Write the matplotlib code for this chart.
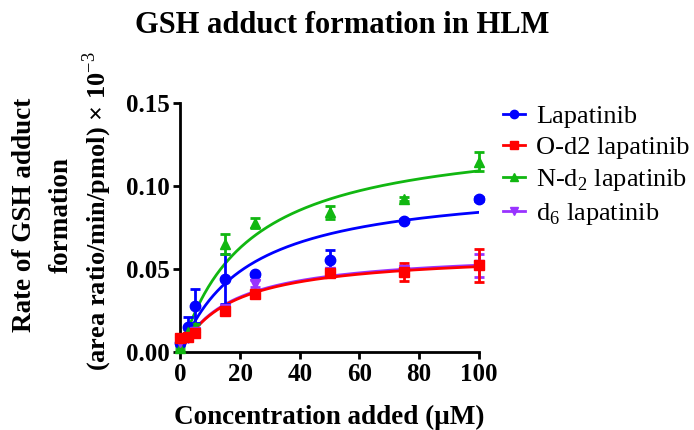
import numpy as np
import matplotlib.pyplot as plt
from matplotlib.lines import Line2D

plt.rcParams['font.family'] = ['Liberation Serif', 'DejaVu Serif']
plt.rcParams['mathtext.fontset'] = 'custom'
plt.rcParams['mathtext.rm'] = 'Liberation Serif'
plt.rcParams['mathtext.bf'] = 'Liberation Serif:bold'

conc = [0, 2.5, 5, 15, 25, 50, 75, 100]

lap = [0.005, 0.015, 0.0275, 0.044, 0.0467, 0.055, 0.079, 0.092]
lap_err = [0.001, 0.006, 0.010, 0.015, 0.001, 0.0065, 0.001, 0.001]

od2 = [0.008, 0.009, 0.011, 0.0246, 0.035, 0.0475, 0.048, 0.052]
od2_err = [0.001, 0.001, 0.001, 0.001, 0.001, 0.002, 0.0055, 0.010]

nd2 = [0.002, 0.012, 0.015, 0.065, 0.0775, 0.084, 0.092, 0.1146]
nd2_err = [0.001, 0.002, 0.002, 0.006, 0.003, 0.004, 0.001, 0.006]

d6 = [0.006, 0.008, 0.012, 0.026, 0.041, 0.048, 0.049, 0.052]
d6_err = [0.001, 0.001, 0.001, 0.001, 0.002, 0.002, 0.002, 0.007]

# Michaelis-Menten fit parameters (Vmax, Km)
fits = {
    'lap': (0.1028, 22.4),
    'od2': (0.0600, 17.0),
    'nd2': (0.1337, 22.7),
    'd6': (0.0610, 17.0),
}

series = [
    ('Lapatinib', lap, lap_err, 'lap', '#0000ff', 'o'),
    ('N-d$_2$ lapatinib', nd2, nd2_err, 'nd2', '#11b711', '^'),
    ('d$_6$ lapatinib', d6, d6_err, 'd6', '#9933ff', 'v'),
    ('O-d2 lapatinib', od2, od2_err, 'od2', '#ff0000', 's'),
]

fig = plt.figure(figsize=(6.94, 4.30), dpi=100)
ax = fig.add_axes([0.260, 0.182, 0.430, 0.579])

xs = np.linspace(0, 100, 300)
for name, y, err, key, col, mk in series:
    vmax, km = fits[key]
    ax.plot(xs, vmax * xs / (km + xs), color=col, lw=2, zorder=2)
    ax.errorbar(conc, y, yerr=err, fmt=mk, color=col, ms=7.5, capsize=3.5,
                elinewidth=2, capthick=2, zorder=3, clip_on=False)

ax.set_xlim(0, 100)
ax.set_ylim(0, 0.15)
ax.set_xticks([0, 20, 40, 60, 80, 100])
ax.set_yticks([0, 0.05, 0.10, 0.15])
ax.set_yticklabels(['0.00', '0.05', '0.10', '0.15'])
for s in ['top', 'right']:
    ax.spines[s].set_visible(False)
for s in ['left', 'bottom']:
    ax.spines[s].set_linewidth(2)
ax.tick_params(width=2, length=5, labelsize=18, direction='out', pad=3)
for lbl in ax.get_xticklabels() + ax.get_yticklabels():
    lbl.set_fontweight('bold')

ax.set_xlabel('Concentration added (μM)', fontsize=19.5, fontweight='bold', labelpad=14)
fig.text(0.036, 0.50, 'Rate of GSH adduct', rotation=90, fontsize=19.5,
         fontweight='bold', ha='center', va='center')
fig.text(0.088, 0.50, 'formation', rotation=90, fontsize=19.5,
         fontweight='bold', ha='center', va='center')
fig.text(0.140, 0.51, r'(area ratio/min/pmol) × 10$^{-3}$', rotation=90,
         fontsize=19, fontweight='bold', ha='center', va='center')

fig.suptitle('GSH adduct formation in HLM', x=0.493, y=0.975, fontsize=22,
             fontweight='bold')

order = [0, 3, 1, 2]
handles = [Line2D([0], [0], color=series[i][4], marker=series[i][5], lw=2, ms=6)
           for i in order]
labels = [series[i][0] for i in order]
fig.legend(handles, labels, loc='upper left', bbox_to_anchor=(0.69, 0.812),
           frameon=False, fontsize=19, handlelength=0.85, handletextpad=0.42,
           labelspacing=0.3)

fig.savefig('out.png', dpi=100, facecolor='white')
